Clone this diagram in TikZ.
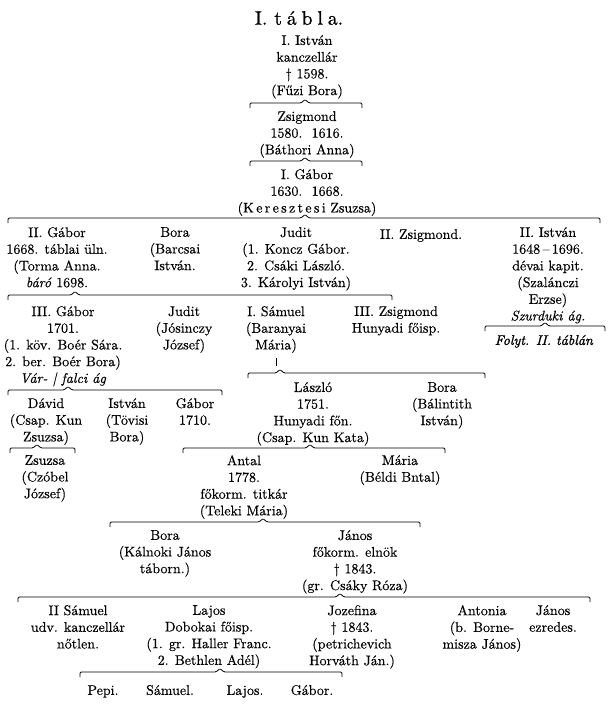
\documentclass[tikz,border=0pt]{standalone}
\usepackage{fontspec}
\setmainfont{lmroman10-regular.otf}[FakeBold=0.35,
  ItalicFont=lmroman10-italic.otf,
  BoldFont=lmroman10-bold.otf,
  BoldItalicFont=lmroman10-bolditalic.otf]
\newcommand\fsz{\fontsize{14}{16.7}\selectfont}
\newcommand\famb[5]{% name, x1, x2, caret x, y
  \coordinate (#1-l) at (#2,#5);
  \coordinate (#1-r) at (#3,#5);
  \coordinate (#1-c) at (#4,#5);
  \draw[famline] ([yshift=-5pt]#1-l) -- (#1-l) -- ([xshift=-4pt]#1-c) -- ([yshift=3.5pt]#1-c) -- ([xshift=4pt]#1-c) -- (#1-r) -- ([yshift=-5pt]#1-r);}
\begin{document}
\begin{tikzpicture}[x=1pt,y=-1pt,
  person/.style={anchor=north, yshift=7pt, inner sep=0pt, align=center, font=\fsz, execute at begin node=\strut},
  famline/.style={line width=0.8pt, rounded corners=1.2pt}]
\useasboundingbox (0,0) rectangle (613,704);

\node[inner sep=0pt, font=\fontsize{19.5}{20}\selectfont\addfontfeatures{FakeBold=0.8}] (title) at (299,18) {I.\hspace{7pt}t\hspace{5pt}á\hspace{5pt}b\hspace{5pt}l\hspace{5pt}a.};

\node[person] (istvan1) at (307,42) {I. István\\kanczellár\\† 1598.\\(Fűzi Bora)};
\famb{b1}{250}{362}{305}{103}
\node[person] (zsig1) at (307,118) {Zsigmond\\1580.\ \ 1616.\\(Báthori Anna)};
\famb{b2}{250}{362}{305}{161}
\node[person] (gabor1) at (307,176) {I. Gábor\\1630.\ \ 1668.\\(K\,e\,r\,e\,s\,z\,t\,e\,s\,i Zsuzsa)};
\famb{b3}{8}{600}{305}{218}

\node[person] (gabor2) at (57,234) {II. Gábor\\1668. táblai üln.\\(Torma Anna.\\\textit{báró} 1698.};
\node[person] (bora1) at (175,234) {Bora\\(Barcsai\\István.};
\node[person] (judit1) at (296,234) {Judit\\(1. Koncz Gábor.\\2. Csáki László.\\3. Károlyi István)};
\node[person] (zsig2) at (421,234) {II. Zsigmond.};
\node[person] (istvan2) at (548,234) {II. István\\1648\,--\,1696.\\dévai kapit.\\(Szalánczi\\Erzse)\\\textit{Szurduki ág.}};
\famb{b5}{485}{605}{545}{326}
\node[person] (folyt) at (544,340) {\addfontfeatures{FakeBold=1.2}\textit{Folyt. II. táblán}};

\famb{b4}{8}{392}{75}{295}
\node[person] (gabor3) at (63,313) {III. Gábor\\1701.\\(1. köv. Boér Sára.\\2. ber. Boér Bora)\\\textit{Vár- | falci ág}};
\node[person] (judit2) at (184,313) {Judit\\(Jósinczy\\József)};
\node[person] (samuel1) at (276,313) {I. Sámuel\\(Baranyai\\Mária)};
\node[person] (zsig3) at (396,313) {III. Zsigmond\\Hunyadi főisp.};
\coordinate (tick-t) at (276,358);
\coordinate (tick-b) at (276,366);
\draw[famline] (tick-t) -- (tick-b);

\famb{b7}{248}{485}{280}{373}
\node[person] (laszlo) at (313,389) {László\\1751.\\Hunyadi főn.\\(Csap. Kun Kata)};
\node[person] (bora2) at (442,389) {Bora\\(Bálintith\\István)};

\famb{b6}{8}{222}{68}{390}
\node[person] (david) at (46,405) {Dávid\\(Csap. Kun\\Zsuzsa)};
\node[person] (istvan3) at (127,405) {István\\(Tövisi\\Bora)};
\node[person] (gabor4) at (195,405) {Gábor\\1710.};

\famb{b8}{10}{75}{37}{448}
\node[person] (zsuzsa) at (45,462) {Zsuzsa\\(Czóbel\\József)};

\famb{b9}{183}{445}{310}{448}
\node[person] (antal) at (244,462) {Antal\\1778.\\főkorm. titkár\\(Teleki Mária)};
\node[person] (maria) at (400,462) {Mária\\(Béldi Bntal)};

\famb{b10}{110}{420}{263}{522}
\node[person] (bora3) at (165,537) {Bora\\(Kálnoki János\\táborn.)};
\node[person] (janos1) at (355,537) {János\\főkorm. elnök\\† 1843.\\(gr. Csáky Róza)};

\famb{b11}{18}{590}{340}{597}
\node[person] (samuel2) at (78,612) {II Sámuel\\udv. kanczellár\\nőtlen.};
\node[person] (lajos) at (209,612) {Lajos\\Dobokai főisp.\\(1. gr. Haller Franc.\\2. Bethlen Adél)};
\node[person] (jozefina) at (352,612) {Jozefina\\† 1843.\\(petrichevich\\Horváth Ján.)};
\node[person] (antonia) at (482,612) {Antonia\\(b. Borne-\\misza János)};
\node[person] (janos2) at (553,612) {János\\ezredes.};

\famb{b12}{80}{342}{220}{672}
\node[person] (pepi) at (103,690) {Pepi.};
\node[person] (samuel3) at (170,690) {Sámuel.};
\node[person] (lajos2) at (245,690) {Lajos.};
\node[person] (gabor5) at (312,690) {Gábor.};
\end{tikzpicture}
\end{document}
